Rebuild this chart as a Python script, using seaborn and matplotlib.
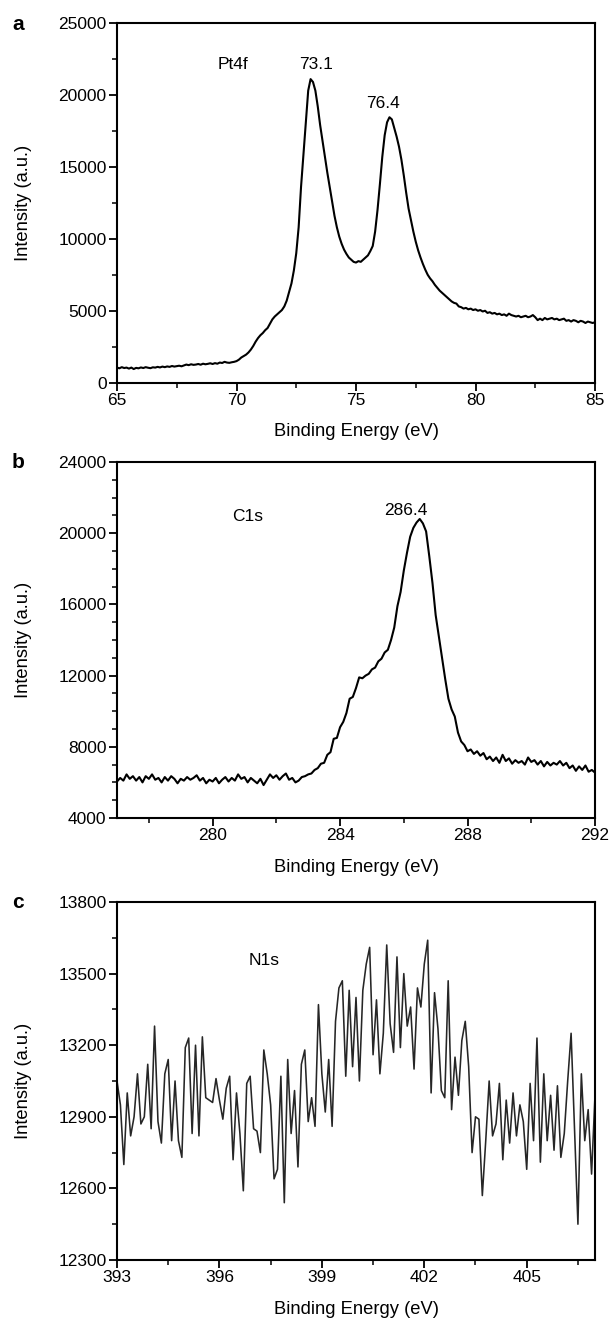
import numpy as np
import pandas as pd
import matplotlib
matplotlib.use("Agg")
import matplotlib.pyplot as plt
from matplotlib.ticker import MultipleLocator
import seaborn as sns

# ---------------- data ----------------
# Panel a: Pt4f, 65.0 .. 85.0 eV, 0.1 eV step
pt4f_start, pt4f_end = 65.0, 85.0
pt4f_intensity = [
    1050, 1000, 1080, 1020, 1050, 980, 1050, 950, 1030, 1000,
    1060, 1020, 1080, 1040, 1010, 1070, 1050, 1100, 1060, 1120,
    1080, 1130, 1100, 1160, 1120, 1150, 1180, 1140, 1200, 1260,
    1220, 1280, 1240, 1260, 1300, 1250, 1320, 1280, 1310, 1350,
    1300, 1360, 1320, 1400, 1370, 1450, 1400, 1380, 1420, 1450,
    1500, 1600, 1750, 1850, 1950, 2100, 2300, 2550, 2850, 3100,
    3300, 3450, 3650, 3800, 4100, 4400, 4600, 4750, 4900, 5050,
    5300, 5700, 6300, 6900, 7800, 9000, 10800, 13600, 15800, 18000,
    20300, 21100, 20900, 20300, 19200, 17900, 16800, 15700, 14600, 13600,
    12600, 11600, 10800, 10150, 9650, 9250, 8950, 8700, 8550, 8400,
    8350, 8450, 8400, 8550, 8700, 8850, 9150, 9500, 10500, 12000,
    13800, 15700, 17200, 18100, 18450, 18300, 17700, 17100, 16400, 15500,
    14400, 13200, 12100, 11300, 10500, 9800, 9200, 8700, 8250, 7850,
    7500, 7250, 7050, 6800, 6600, 6400, 6250, 6100, 5950, 5800,
    5650, 5550, 5500, 5300, 5250, 5150, 5200, 5100, 5150, 5050,
    5100, 5000, 5050, 4950, 5000, 4850, 4900, 4800, 4850, 4750,
    4800, 4700, 4750, 4650, 4800, 4700, 4650, 4600, 4650, 4550,
    4600, 4650, 4550, 4600, 4700, 4550, 4350, 4450, 4350, 4500,
    4400, 4450, 4500, 4400, 4450, 4350, 4400, 4450, 4300, 4350,
    4250, 4350, 4300, 4200, 4300, 4250, 4150, 4250, 4200, 4150,
    4200,
]

# Panel b: C1s, 277.0 .. 292.0 eV, 0.1 eV step
c1s_start, c1s_end = 277.0, 292.0
c1s_intensity = [
    6050, 6250, 6100, 6450, 6200, 6350, 6100, 6300, 6000, 6350,
    6200, 6450, 6150, 6250, 6000, 6300, 6100, 6350, 6200, 5950,
    6200, 6100, 6300, 6150, 6250, 6400, 6100, 6250, 5950, 6150,
    6050, 6250, 5950, 6150, 6300, 6050, 6250, 6100, 6450, 6200,
    6300, 6000, 6250, 6100, 5950, 6200, 5850, 6150, 6450, 6250,
    6400, 6150, 6350, 6500, 6150, 6250, 6000, 6100, 6300, 6350,
    6450, 6500, 6700, 6800, 7050, 7100, 7550, 7700, 8450, 8500,
    9100, 9400, 9900, 10700, 10800, 11300, 11900, 11850, 12000, 12100,
    12350, 12450, 12800, 12950, 13300, 13450, 14000, 14700, 15900, 16700,
    17900, 18900, 19800, 20300, 20600, 20800, 20550, 20100, 18700, 17200,
    15400, 14200, 13000, 11800, 10700, 10100, 9700, 8800, 8300, 8100,
    7750, 7850, 7600, 7750, 7500, 7650, 7300, 7450, 7200, 7400,
    7100, 7550, 7200, 7350, 7050, 7250, 7100, 7200, 7000, 7400,
    7150, 7250, 7000, 7200, 6900, 7150, 6950, 7100, 7000, 7200,
    6950, 7100, 6800, 6950, 6650, 6900, 6700, 6950, 6600, 6700,
    6550,
]

# Panel c: N1s, 393.0 .. 407.0 eV, 0.1 eV step
n1s_start, n1s_end = 393.0, 407.0
n1s_intensity = [
    13050, 12950, 12700, 13000, 12820, 12900, 13080, 12870, 12900, 13120,
    12850, 13280, 12880, 12790, 13080, 13140, 12800, 13050, 12800, 12730,
    13190, 13230, 12830, 13200, 12820, 13235, 12980, 12970, 12960, 13060,
    12970, 12890, 13020, 13070, 12720, 13000, 12830, 12590, 13040, 13070,
    12850, 12840, 12750, 13180, 13080, 12950, 12640, 12680, 13070, 12540,
    13140, 12830, 13010, 12690, 13120, 13180, 12880, 12980, 12860, 13370,
    13080, 12920, 13140, 12860, 13300, 13440, 13470, 13070, 13430, 13110,
    13400, 13050, 13430, 13540, 13610, 13160, 13390, 13080, 13250, 13620,
    13290, 13170, 13570, 13190, 13500, 13280, 13360, 13100, 13440, 13360,
    13540, 13640, 13000, 13420, 13270, 13010, 12980, 13470, 12930, 13150,
    12990, 13220, 13300, 13110, 12750, 12900, 12890, 12570, 12800, 13050,
    12820, 12870, 13040, 12720, 12970, 12790, 13000, 12820, 12950, 12880,
    12680, 13040, 12800, 13230, 12710, 13080, 12800, 12990, 12760, 13030,
    12730, 12830, 13050, 13250, 12850, 12450, 13080, 12800, 12930, 12660,
    12990,
]

panels = [
    dict(letter="a", start=pt4f_start, end=pt4f_end, y=pt4f_intensity,
         xlim=(65, 85), xmaj=5, xmin=2.5, ylim=(0, 25000), ymaj=5000, ymin=2500,
         notes=[("Pt4f", 69.85, 22100), ("73.1", 73.33, 22100), ("76.4", 76.15, 19400)]),
    dict(letter="b", start=c1s_start, end=c1s_end, y=c1s_intensity,
         xlim=(277, 292), xmaj=4, xmin=2, ylim=(4000, 24000), ymaj=4000, ymin=1000,
         notes=[("C1s", 281.1, 20950), ("286.4", 286.05, 21300)]),
    dict(letter="c", start=n1s_start, end=n1s_end, y=n1s_intensity,
         xlim=(393, 407), xmaj=3, xmin=1.5, ylim=(12300, 13800), ymaj=300, ymin=150,
         notes=[("N1s", 397.3, 13555)]),
]

# ---------------- style ----------------
sns.set_theme(style="ticks")
plt.rcParams["font.family"] = ["Liberation Sans", "DejaVu Sans"]
plt.rcParams["axes.linewidth"] = 1.5

W, H = 615, 1322
fig = plt.figure(figsize=(W / 100, H / 100), dpi=100)

left_px, right_px = 117, 595
tops = [23, 462, 902]
bottoms = [382.7, 818, 1260]

for p, top, bot in zip(panels, tops, bottoms):
    ax = fig.add_axes([left_px / W, 1 - bot / H, (right_px - left_px) / W, (bot - top) / H])
    n = len(p["y"])
    df = pd.DataFrame({"energy": np.linspace(p["start"], p["end"], n), "intensity": p["y"]})
    if p["letter"] == "c":
        lw, col = 1.15, "#262626"
    else:
        lw, col = 1.5, "black"
    sns.lineplot(data=df, x="energy", y="intensity", ax=ax, color=col, lw=lw,
                 estimator=None)
    ax.set_xlim(*p["xlim"])
    ax.set_ylim(*p["ylim"])
    ax.xaxis.set_major_locator(MultipleLocator(p["xmaj"]))
    ax.xaxis.set_minor_locator(MultipleLocator(p["xmin"]))
    ax.yaxis.set_major_locator(MultipleLocator(p["ymaj"]))
    ax.yaxis.set_minor_locator(MultipleLocator(p["ymin"]))
    ax.tick_params(which="major", direction="out", length=6, width=1.3,
                   labelsize=12.5, pad=1.5, colors="black")
    ax.tick_params(which="minor", direction="out", length=3.5, width=1.1, colors="black")
    for s in ax.spines.values():
        s.set_color("black")
        s.set_linewidth(1.5)
    ax.set_xlabel("Binding Energy (eV)", fontsize=13.2, labelpad=11, color="black")
    ax.set_ylabel("Intensity (a.u.)", fontsize=13.2, labelpad=19, color="black")
    for txt, x, y in p["notes"]:
        ax.text(x, y, txt, fontsize=12.5, ha="center", va="center", color="black")
    fig.text(18 / W, 1 - (top + 1) / H, p["letter"], fontsize=15, fontweight="bold",
             ha="center", va="center", color="black")

fig.savefig("out.png", dpi=100)
